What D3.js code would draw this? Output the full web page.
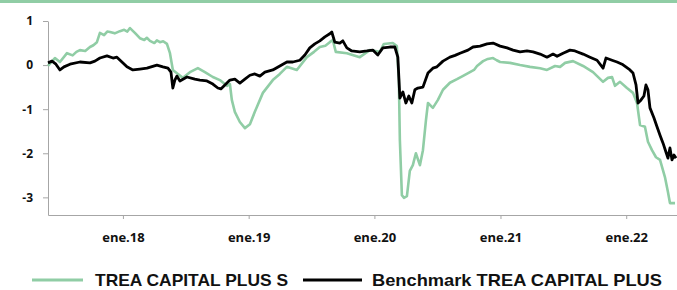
<!DOCTYPE html>
<html>
<head>
<meta charset="utf-8">
<script src="https://cdn.jsdelivr.net/npm/d3@7"></script>
<style>
  body { margin: 0; background: #fff; }
  svg { display: block; }
  .axis path, .axis line { stroke: #a6a6a6; }
  .axis text { font-family: "Open Sans", sans-serif; font-weight: bold; fill: #111; }
  .legend text { font-family: "Liberation Sans", Arial, sans-serif; font-weight: bold; fill: #111; }
</style>
</head>
<body>
<svg id="chart" width="677" height="290"></svg>
<script>
"use strict"

// series as [decimal year, value]
var fundSeries = [
    [2017.404,-0.02],[2017.459,0.16],[2017.499,0.07],[2017.555,0.27],[2017.600,0.22],[2017.630,0.30],
    [2017.658,0.34],[2017.700,0.32],[2017.738,0.41],[2017.765,0.45],[2017.793,0.52],[2017.817,0.73],
    [2017.850,0.68],[2017.875,0.76],[2017.897,0.75],[2017.935,0.72],[2017.976,0.77],[2018.010,0.80],
    [2018.035,0.76],[2018.056,0.84],[2018.095,0.73],[2018.135,0.61],[2018.170,0.57],[2018.190,0.62],
    [2018.215,0.55],[2018.250,0.50],[2018.270,0.56],[2018.294,0.52],[2018.320,0.54],[2018.350,0.48],
    [2018.374,0.27],[2018.397,-0.11],
    [2018.437,-0.2],[2018.477,-0.29],[2018.533,-0.16],[2018.596,-0.07],[2018.652,-0.16],[2018.715,-0.27],
    [2018.771,-0.34],[2018.827,-0.47],[2018.851,-0.43],[2018.866,-0.79],[2018.890,-1.06],[2018.930,-1.29],
    [2018.970,-1.43],[2019.010,-1.34],[2019.049,-1.06],[2019.113,-0.63],[2019.192,-0.34],[2019.248,-0.2],
    [2019.304,-0.04],[2019.383,-0.11],[2019.463,0.18],[2019.520,0.30],[2019.566,0.41],[2019.610,0.44],
    [2019.645,0.52],[2019.669,0.57],
    [2019.693,0.3],[2019.781,0.27],[2019.884,0.18],[2019.963,0.34],[2020.043,0.3],[2020.075,0.48],
    [2020.146,0.5],[2020.178,0.43],[2020.194,-0.34],[2020.202,-1.7],[2020.218,-2.95],[2020.234,-3.01],
    [2020.258,-2.97],[2020.281,-2.4],[2020.305,-2.27],[2020.329,-2.0],[2020.361,-2.27],[2020.385,-1.93],
    [2020.409,-1.25],[2020.425,-0.86],[2020.464,-0.97],[2020.504,-0.79],[2020.544,-0.56],[2020.599,-0.40],
    [2020.655,-0.32],[2020.700,-0.25],[2020.758,-0.16],[2020.790,-0.11],[2020.814,-0.02],[2020.862,0.09],
    [2020.900,0.14],[2020.941,0.16],[2020.970,0.11],[2020.997,0.07],[2021.076,0.05],[2021.156,0.0],
    [2021.235,-0.04],[2021.315,-0.07],[2021.370,-0.11],[2021.434,-0.02],
    [2021.474,-0.04],[2021.514,0.05],[2021.577,0.09],[2021.657,-0.02],[2021.736,-0.16],[2021.816,-0.38],
    [2021.855,-0.29],[2021.887,-0.27],[2021.911,-0.47],[2021.951,-0.38],[2022.006,-0.52],[2022.054,-0.63],
    [2022.086,-0.86],[2022.110,-1.36],[2022.149,-1.4],[2022.173,-1.74],[2022.205,-1.93],[2022.237,-2.09],
    [2022.269,-2.15],[2022.308,-2.54],[2022.332,-2.88],[2022.348,-3.13],[2022.388,-3.13]
];

var benchSeries = [
    [2017.404,0.05],[2017.436,0.09],[2017.467,0.02],[2017.499,-0.11],[2017.531,-0.04],[2017.579,0.02],
    [2017.658,0.07],[2017.738,0.05],[2017.777,0.09],[2017.817,0.16],[2017.873,0.21],[2017.921,0.16],
    [2017.952,0.18],[2017.992,0.07],[2018.032,-0.04],[2018.079,-0.11],[2018.135,-0.09],[2018.191,-0.07],
    [2018.270,0.0],[2018.318,-0.04],[2018.358,-0.07],[2018.382,-0.16],[2018.397,-0.52],[2018.413,-0.34],
    [2018.429,-0.25],[2018.453,-0.36],[2018.509,-0.27],[2018.572,-0.32],[2018.612,-0.34],[2018.668,-0.36],
    [2018.715,-0.43],[2018.755,-0.52],[2018.779,-0.54],[2018.811,-0.45],[2018.851,-0.34],[2018.890,-0.32],
    [2018.930,-0.41],[2018.970,-0.32],[2019.010,-0.23],[2019.049,-0.2],[2019.089,-0.25],[2019.129,-0.16],
    [2019.192,-0.11],[2019.248,-0.02],[2019.304,0.07],[2019.351,0.07],[2019.407,0.11],[2019.447,0.23],
    [2019.486,0.39],[2019.526,0.48],[2019.566,0.55],[2019.606,0.64],[2019.645,0.71],[2019.661,0.75],
    [2019.685,0.52],[2019.725,0.5],[2019.749,0.55],[2019.781,0.39],[2019.820,0.32],[2019.884,0.3],
    [2019.940,0.32],[2019.987,0.34],[2020.027,0.23],[2020.067,0.39],[2020.122,0.41],[2020.162,0.41],
    [2020.186,0.18],[2020.202,-0.75],[2020.226,-0.61],[2020.250,-0.86],[2020.273,-0.7],[2020.297,-0.86],
    [2020.321,-0.56],[2020.345,-0.52],[2020.385,-0.5],[2020.425,-0.18],[2020.464,-0.07],[2020.496,-0.04],
    [2020.544,0.09],[2020.599,0.18],[2020.640,0.22],[2020.679,0.27],[2020.742,0.34],[2020.782,0.41],
    [2020.838,0.43],[2020.894,0.48],[2020.941,0.5],[2020.997,0.43],[2021.053,0.39],[2021.100,0.34],
    [2021.156,0.3],[2021.211,0.32],[2021.259,0.3],[2021.315,0.25],[2021.370,0.18],[2021.418,0.25],
    [2021.450,0.2],[2021.498,0.27],[2021.553,0.34],[2021.593,0.32],[2021.657,0.25],[2021.712,0.18],
    [2021.768,0.11],[2021.816,-0.07],[2021.839,0.16],[2021.887,0.11],[2021.927,0.07],[2021.967,0.02],
    [2022.030,-0.11],[2022.054,-0.18],[2022.078,-0.45],[2022.094,-0.86],[2022.118,-0.79],[2022.141,-0.7],
    [2022.157,-0.45],[2022.173,-0.56],[2022.189,-0.97],[2022.221,-1.2],[2022.245,-1.4],[2022.269,-1.59],
    [2022.293,-1.77],[2022.316,-1.97],[2022.332,-2.11],[2022.348,-1.88],[2022.364,-2.15],[2022.380,-2.04],
    [2022.396,-2.11]
];

var yTicks = [1, 0, -1, -2, -3];
var xTickYears = [2018, 2019, 2020, 2021, 2022];
var seriesNames = ["TREA CAPITAL PLUS S", "Benchmark TREA CAPITAL PLUS"];
var seriesColors = ["#90cda5", "#000000"];

// decimal year -> Date
function toDate(yr) {
    var y = Math.floor(yr);
    var s = new Date(y, 0, 1), e = new Date(y + 1, 0, 1);
    return new Date(+s + (yr - y) * (e - s));
}

var svg = d3.select("#chart");

// green rule at the top
svg.append("rect")
    .attr("x", 0).attr("y", 0)
    .attr("width", 677).attr("height", 3)
    .attr("fill", "#90cda5");

var x = d3.scaleTime()
    .domain([toDate(2017.404), toDate(2022.404)])
    .range([48, 677]);

var y = d3.scaleLinear()
    .domain([-3.4, 1])
    .range([215, 21]);

// axes
svg.append("g")
    .attr("class", "axis")
    .attr("transform", "translate(48,0)")
    .call(d3.axisLeft(y)
        .tickValues(yTicks)
        .tickSize(5)
        .tickSizeOuter(0)
        .tickPadding(10)
        .tickFormat(function(d){ return String(d); }))
    .style("font-size", "12px");

svg.append("g")
    .attr("class", "axis")
    .attr("transform", "translate(0,215)")
    .call(d3.axisBottom(x)
        .tickValues(xTickYears.map(function(yr){ return new Date(yr, 0, 1); }))
        .tickSize(4)
        .tickSizeOuter(0)
        .tickPadding(14)
        .tickFormat(function(d){ return "ene." + String(d.getFullYear()).slice(2); }))
    .style("font-size", "13px");

var line = d3.line()
    .x(function(d){ return x(toDate(d[0])); })
    .y(function(d){ return y(d[1]); });

svg.append("path")
    .datum(fundSeries)
    .attr("fill", "none")
    .attr("stroke", seriesColors[0])
    .attr("stroke-width", 2.6)
    .attr("stroke-linejoin", "round")
    .attr("d", line);

svg.append("path")
    .datum(benchSeries)
    .attr("fill", "none")
    .attr("stroke", seriesColors[1])
    .attr("stroke-width", 2.8)
    .attr("stroke-linejoin", "round")
    .attr("d", line);

// legend
var legend = svg.append("g").attr("class", "legend");
var legendItems = [
    {x0: 32, x1: 83, tx: 95, w: 193},
    {x0: 303, x1: 362, tx: 372, w: 290}
];
legendItems.forEach(function(item, i){
    legend.append("line")
        .attr("x1", item.x0).attr("x2", item.x1)
        .attr("y1", 280).attr("y2", 280)
        .attr("stroke", seriesColors[i])
        .attr("stroke-width", 3);
    legend.append("text")
        .attr("x", item.tx)
        .attr("y", 286.2)
        .attr("textLength", item.w)
        .attr("lengthAdjust", "spacingAndGlyphs")
        .style("font-size", "17px")
        .text(seriesNames[i]);
});
</script>
</body>
</html>
